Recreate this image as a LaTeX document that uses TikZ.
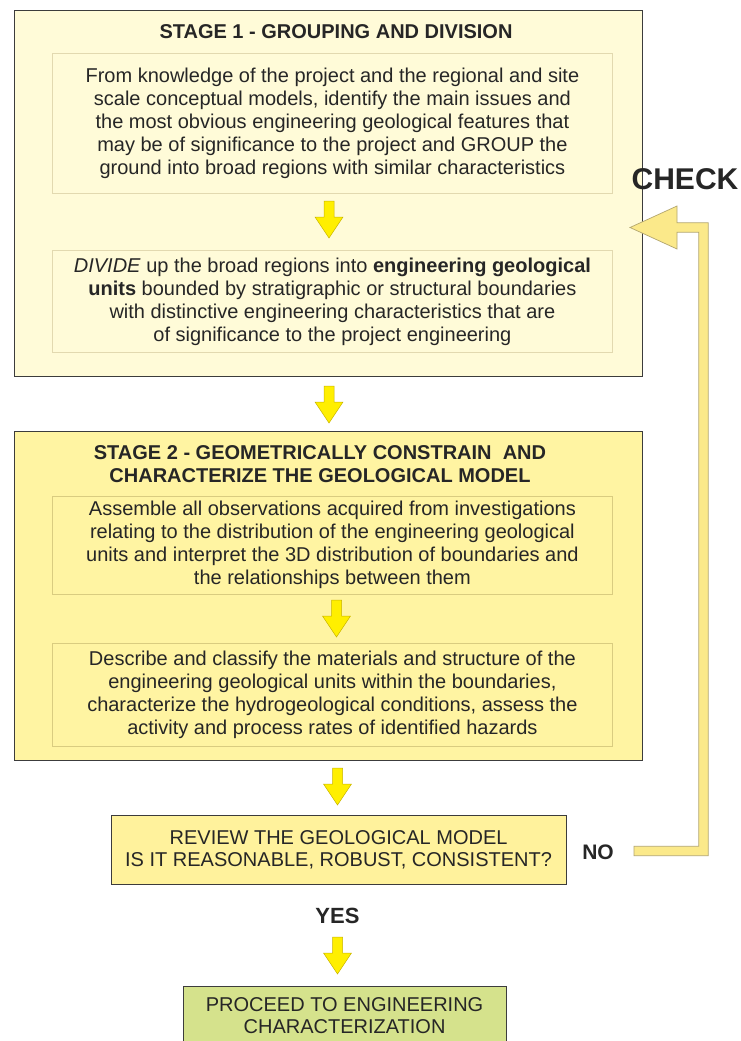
\documentclass[tikz,border=0pt]{standalone}
\usepackage{fontspec}
\setmainfont{Liberation Sans}
\usetikzlibrary{calc}

\definecolor{stageone}{HTML}{FFFBD8}
\definecolor{stagetwo}{HTML}{FFF4A2}
\definecolor{reviewfill}{HTML}{FFF29C}
\definecolor{proceedfill}{HTML}{D5E28C}
\definecolor{frameline}{HTML}{3C3C3C}
\definecolor{innerline}{HTML}{E2D9B0}
\definecolor{innerlinetwo}{HTML}{D9CC80}
\definecolor{arrowfill}{HTML}{FFEF00}
\definecolor{arrowedge}{HTML}{C8B400}
\definecolor{loopfill}{HTML}{FBE98A}
\definecolor{loopedge}{HTML}{B3A66E}
\definecolor{ink}{HTML}{262626}

\tikzset{
  bodyfont/.style={font=\fontsize{20}{23}\selectfont, text=ink},
  stagebox/.style={draw=frameline, line width=0.9pt, inner sep=0pt, anchor=north west},
  innerbox/.style={draw=innerline, line width=0.8pt, inner sep=0pt, anchor=north west,
                   align=center, bodyfont},
  titletext/.style={font=\bfseries\fontsize{20}{23}\selectfont, text=ink, align=center},
  flowbox/.style={draw=frameline, line width=0.6pt, inner sep=0pt, anchor=north west,
                  align=center, bodyfont},
  bigword/.style={font=\bfseries\fontsize{#1}{#1}\selectfont, text=ink},
  pics/downarrow/.style={code={
    \draw[fill=arrowfill, draw=arrowedge, line width=0.5pt, line join=miter]
      (-5,0) -- (5,0) -- (5,16) -- (14,16) -- (0,37) -- (-14,16) -- (-5,16) -- cycle;
  }},
}

\begin{document}
\begin{tikzpicture}[x=1pt, y=-1pt]
  \useasboundingbox (0,0) rectangle (740,1041);
  \clip (0,0) rectangle (740,1041);
  \fill[white] (0,0) rectangle (740,1041);

  % ---------- Stage 1 ----------
  \node[stagebox, fill=stageone, minimum width=628pt, minimum height=365.5pt] (s1) at (14,10) {};
  \node[titletext] (s1title) at (336,32) {STAGE 1 - GROUPING AND DIVISION};
  \node[innerbox, fill=stageone, minimum width=560pt, minimum height=140pt] (group) at (52,53)
    {From knowledge of the project and the regional and site\\
     scale conceptual models, identify the main issues and\\
     the most obvious engineering geological features that\\
     may be of significance to the project and GROUP the\\
     ground into broad regions with similar characteristics};
  \node[innerbox, fill=stageone, minimum width=560pt, minimum height=102pt] (divide) at (52,250)
    {\textit{DIVIDE} up the broad regions into \textbf{engineering geological}\\
     \textbf{units} bounded by stratigraphic or structural boundaries\\
     with distinctive engineering characteristics that are\\
     of significance to the project engineering};
  \pic (a1) at (329,201) {downarrow};

  % ---------- Stage 1 to Stage 2 ----------
  \pic (a2) at (329,386) {downarrow};

  % ---------- Stage 2 ----------
  \node[stagebox, fill=stagetwo, minimum width=628pt, minimum height=329.5pt] (s2) at (14,430.5) {};
  \node[titletext] (s2title) at (320,464)
    {STAGE 2 - GEOMETRICALLY CONSTRAIN \ AND\\
     CHARACTERIZE THE GEOLOGICAL MODEL};
  \node[innerbox, draw=innerlinetwo, fill=stagetwo, minimum width=560pt, minimum height=98pt] (assemble) at (52,495.5)
    {Assemble all observations acquired from investigations\\
     relating to the distribution of the engineering geological\\
     units and interpret the 3D distribution of boundaries and\\
     the relationships between them};
  \node[innerbox, draw=innerlinetwo, fill=stagetwo, minimum width=560pt, minimum height=102.5pt] (describe) at (52,643)
    {Describe and classify the materials and structure of the\\
     engineering geological units within the boundaries,\\
     characterize the hydrogeological conditions, assess the\\
     activity and process rates of identified hazards};
  \pic (a3) at (336.5,600) {downarrow};

  % ---------- Review ----------
  \pic (a4) at (337.5,768) {downarrow};
  \node[flowbox, fill=reviewfill, minimum width=455.5pt, minimum height=69pt,
        font=\fontsize{20}{22.5}\selectfont] (review) at (110.5,815)
    {REVIEW THE GEOLOGICAL MODEL\\
     IS IT REASONABLE, ROBUST, CONSISTENT?};
  \node[bigword=21] (no) at (598,852) {NO};
  \node[bigword=22] (yes) at (337.5,916) {YES};
  \pic (a5) at (337.5,937) {downarrow};

  % ---------- Proceed ----------
  \node[flowbox, fill=proceedfill, minimum width=323.5pt, minimum height=59pt,
        font=\fontsize{20}{22.5}\selectfont] (proceed) at (182.5,986)
    {PROCEED TO ENGINEERING\\
     CHARACTERIZATION};

  % ---------- Check loop back to Stage 1 ----------
  \node[bigword=30] (check) at (685,179) {CHECK};
  \coordinate (loopstart) at (634,851);
  \coordinate (looptip) at (630,227.5);
  \draw[fill=loopfill, draw=loopedge, line width=0.7pt, line join=miter]
    ($(loopstart)+(0,-4.7)$) -- (698.8,846.3) -- (698.8,232.2) -- (677,232.2)
    -- (677,249) -- (looptip) -- (677,206) -- (677,222.8) -- (708.2,222.8)
    -- (708.2,855.7) -- ($(loopstart)+(0,4.7)$) -- cycle;
\end{tikzpicture}
\end{document}
